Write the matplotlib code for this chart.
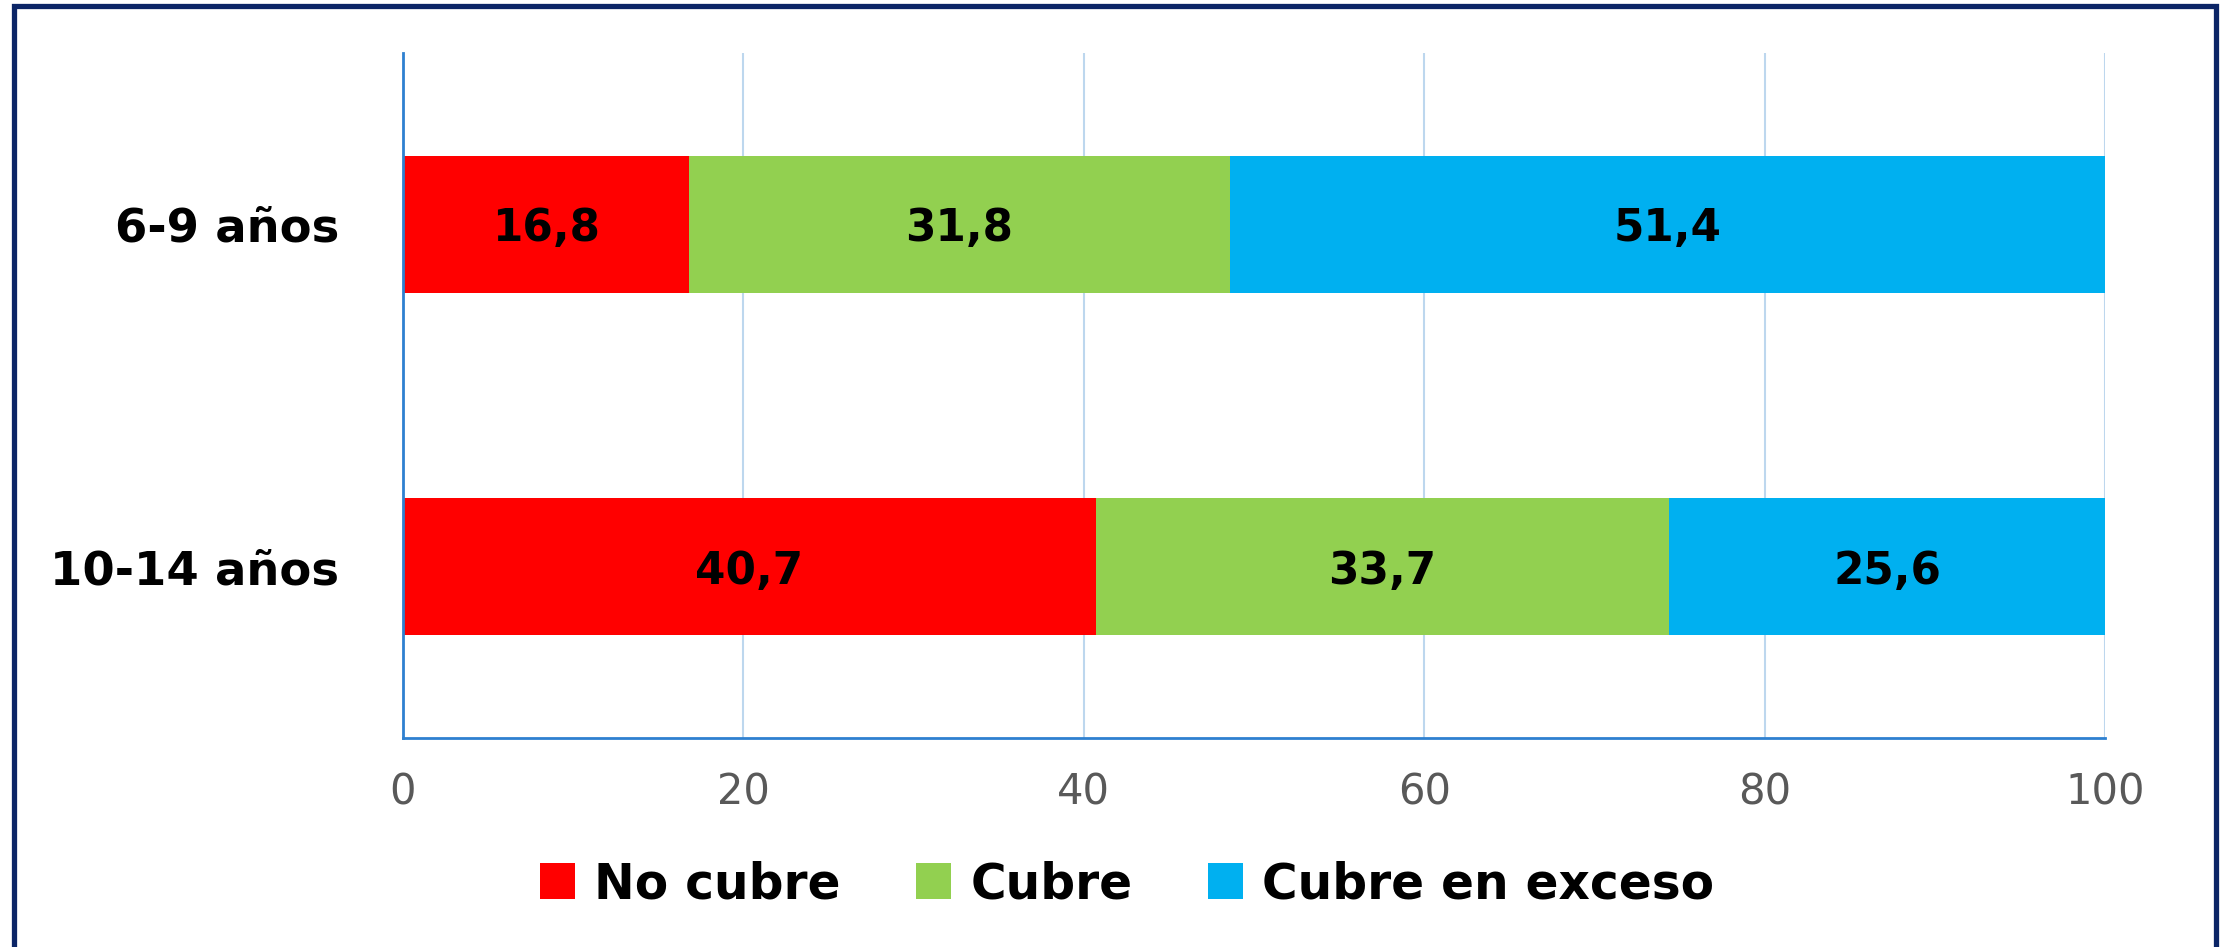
import matplotlib
matplotlib.use("Agg")
import matplotlib.pyplot as plt
from matplotlib.patches import Rectangle

categories = ["6-9 años", "10-14 años"]
series_names = ["No cubre", "Cubre", "Cubre en exceso"]
no_cubre = [16.8, 40.7]
cubre = [31.8, 33.7]
exceso = [51.4, 25.6]
x_ticks = [0, 20, 40, 60, 80, 100]
colors = ["#FF0000", "#92D050", "#00B0F0"]

W, H = 2224, 947
fig = plt.figure(figsize=(W / 100, H / 100), dpi=100)
fig.patch.set_facecolor("white")

ax = fig.add_axes([403 / W, 1 - 738 / H, (2105 - 403) / W, (738 - 53) / H])

ypos = list(range(len(categories)))
left = [0.0] * len(categories)
handles = []
for name, vals, col in zip(series_names, [no_cubre, cubre, exceso], colors):
    bars = ax.barh(ypos, vals, left=left, height=0.4, color=col, label=name, zorder=3)
    handles.append(bars)
    for y, l, v in zip(ypos, left, vals):
        ax.text(l + v / 2, y, f"{v:.1f}".replace(".", ","), ha="center", va="center_baseline",
                fontsize=31.5, fontweight="bold", color="black", family="DejaVu Sans", zorder=4)
    left = [a + b for a, b in zip(left, vals)]

ax.set_xlim(0, 100)
ax.set_ylim(1.5, -0.5)
ax.set_xticks(x_ticks)
ax.set_xticklabels([str(t) for t in x_ticks])
ax.set_yticks(ypos)
ax.set_yticklabels(categories)

for lab in ax.get_yticklabels():
    lab.set_fontsize(33.5)
    lab.set_fontweight("bold")
    lab.set_family("DejaVu Sans")
    lab.set_color("black")
for lab in ax.get_xticklabels():
    lab.set_fontsize(30)
    lab.set_family("DejaVu Sans")
    lab.set_color("#595959")

ax.tick_params(axis="y", length=0, pad=46)
ax.tick_params(axis="x", length=0, pad=24)

ax.grid(axis="x", color="#BDD7EE", linewidth=1.5, zorder=0)
ax.grid(axis="y", visible=False)
for s in ["top", "right"]:
    ax.spines[s].set_visible(False)
for s in ["left", "bottom"]:
    ax.spines[s].set_color("#2E80D0")
    ax.spines[s].set_linewidth(2)
    ax.spines[s].set_zorder(5)

leg = fig.legend(handles=handles, labels=series_names, loc="center",
                 bbox_to_anchor=(1127 / W, 1 - 884 / H), ncol=3, frameon=False,
                 prop={"family": "DejaVu Sans", "weight": "bold", "size": 35},
                 handlelength=0.72, handleheight=0.78, handletextpad=0.4,
                 columnspacing=1.55, borderpad=0)

# outer frame
fig.patches.append(Rectangle((14 / W, -0.05), (2216 - 14) / W, 1.05 - 6 / H,
                             transform=fig.transFigure, fill=False,
                             edgecolor="#0B2566", linewidth=3.8, zorder=10))

fig.savefig("out.png", dpi=100, facecolor="white")
